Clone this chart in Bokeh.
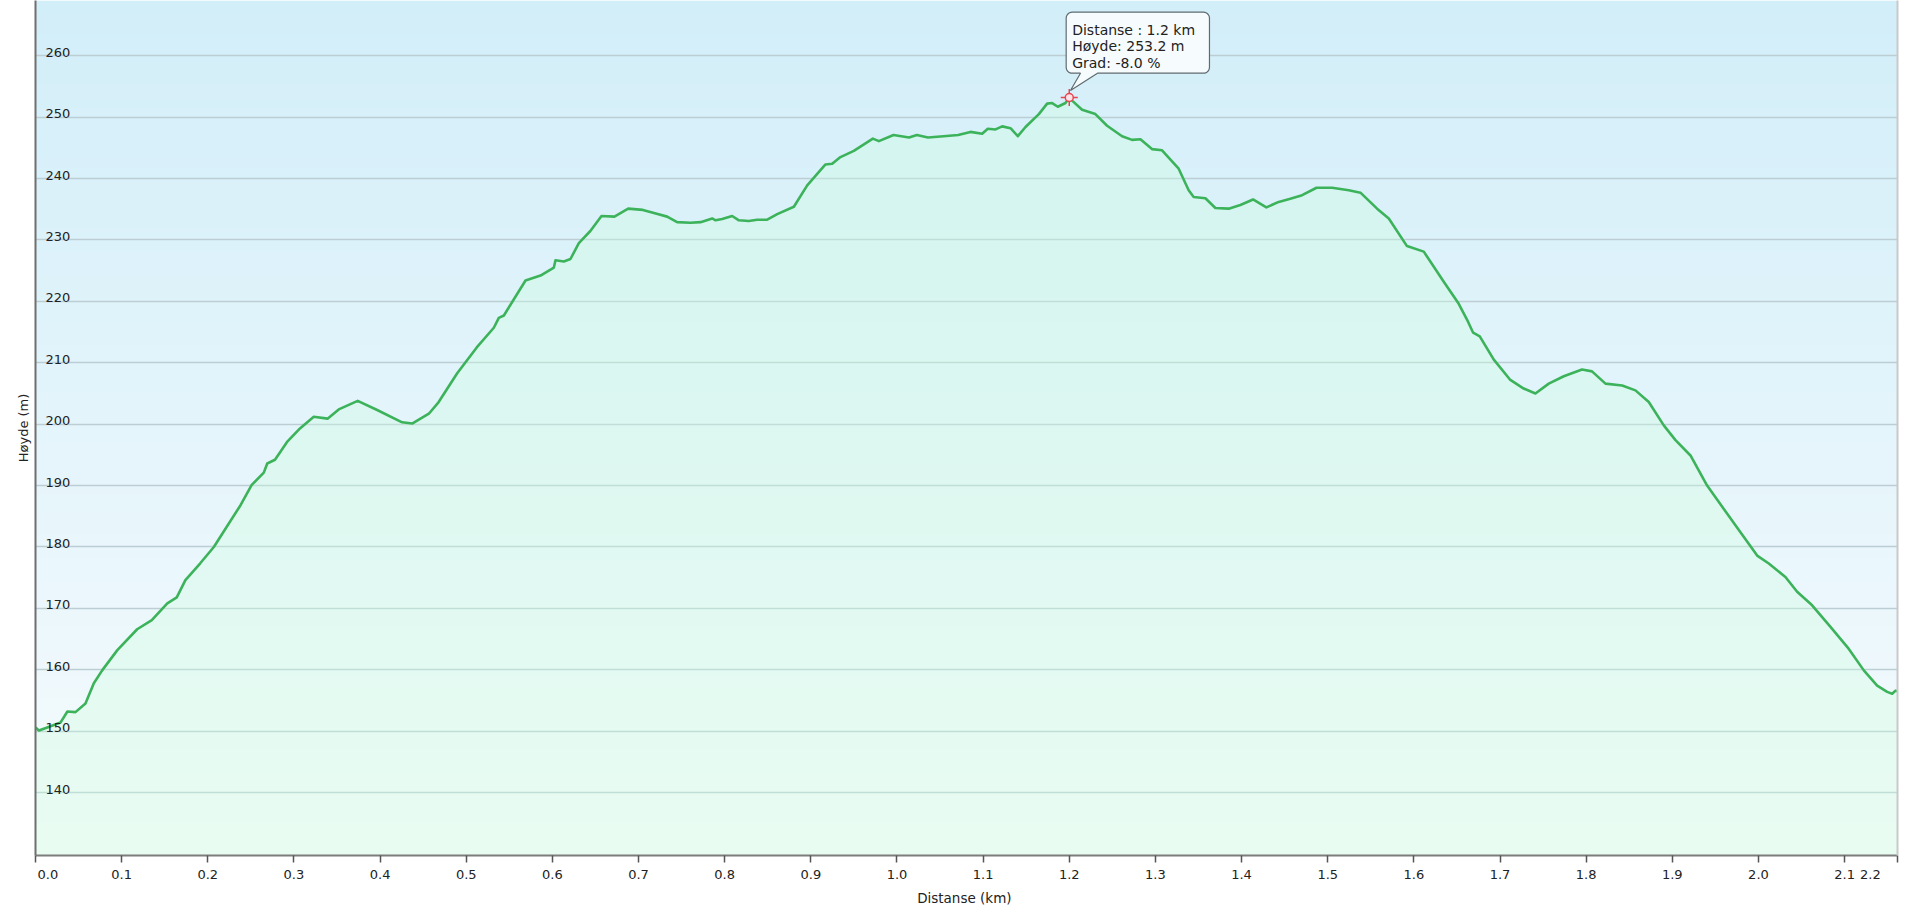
import numpy as np
from bokeh.plotting import figure
from bokeh.models import FixedTicker, LinearAxis, NumeralTickFormatter, Range1d
from bokeh.core.properties import value
from bokeh.embed import file_html
from bokeh.resources import INLINE

# ---------------- data ----------------
distance_km = [
    0.0, 0.004, 0.0136, 0.029, 0.037, 0.0464, 0.058, 0.0677, 0.0774, 0.095,
    0.118, 0.135, 0.153, 0.164, 0.174, 0.191, 0.207, 0.222, 0.238, 0.251,
    0.265, 0.269, 0.278, 0.292, 0.307, 0.323, 0.339, 0.352, 0.374, 0.3966,
    0.4256, 0.4372, 0.4566, 0.468, 0.4895, 0.5122, 0.532, 0.5378, 0.5437, 0.5688,
    0.5862, 0.6017, 0.6036, 0.6133, 0.621, 0.6307, 0.6443, 0.657, 0.672, 0.688,
    0.705, 0.72, 0.7332, 0.7448, 0.7603, 0.772, 0.7855, 0.7894, 0.7971, 0.8087,
    0.8165, 0.828, 0.8377, 0.8494, 0.861, 0.8803, 0.8958, 0.917, 0.9248, 0.9344,
    0.9499, 0.972, 0.979, 0.996, 1.014, 1.023, 1.036, 1.054, 1.071, 1.0853,
    1.0989, 1.1054, 1.1144, 1.1221, 1.1318, 1.1403, 1.1492, 1.1647, 1.1743, 1.1801,
    1.1867, 1.1956, 1.2, 1.2033, 1.2149, 1.2303, 1.2439, 1.2613, 1.2729, 1.2826,
    1.296, 1.3077, 1.327, 1.3386, 1.3444, 1.358, 1.3696, 1.385, 1.3986, 1.4133,
    1.4288, 1.4431, 1.4566, 1.4703, 1.487, 1.5051, 1.5245, 1.538, 1.5573, 1.5709,
    1.592, 1.6115, 1.6347, 1.6521, 1.6618, 1.6688, 1.6765, 1.6928, 1.712, 1.7275,
    1.7411, 1.7566, 1.774, 1.7952, 1.8068, 1.8224, 1.8418, 1.8572, 1.8727, 1.8901,
    1.9037, 1.9211, 1.9404, 1.9598, 1.9791, 1.9985, 2.012, 2.0313, 2.0449, 2.0623,
    2.0836, 2.1049, 2.1223, 2.1378, 2.1494, 2.1552, 2.1591, 2.1614,
]
elevation_m = [
    150.6, 150.1, 150.6, 151.4, 153.2, 153.1, 154.5, 157.8, 159.9, 163.2,
    166.6, 168.1, 170.8, 171.8, 174.6, 177.3, 180.0, 183.3, 186.8, 190.1,
    192.1, 193.6, 194.2, 197.1, 199.3, 201.2, 200.9, 202.4, 203.8, 202.3,
    200.3, 200.1, 201.7, 203.6, 208.3, 212.5, 215.7, 217.3, 217.7, 223.4,
    224.2, 225.5, 226.7, 226.5, 226.9, 229.5, 231.5, 233.9, 233.8, 235.1,
    234.9, 234.3, 233.8, 232.9, 232.8, 232.9, 233.5, 233.2, 233.4, 233.9,
    233.2, 233.1, 233.3, 233.3, 234.2, 235.4, 238.9, 242.3, 242.4, 243.5,
    244.5, 246.5, 246.1, 247.1, 246.7, 247.1, 246.7, 246.9, 247.1, 247.6,
    247.3, 248.1, 248.0, 248.5, 248.2, 246.9, 248.4, 250.5, 252.2, 252.3,
    251.7, 252.3, 253.2, 252.7, 251.2, 250.5, 248.6, 246.9, 246.3, 246.4,
    244.8, 244.6, 241.6, 238.1, 237.0, 236.8, 235.2, 235.1, 235.7, 236.6,
    235.3, 236.2, 236.7, 237.3, 238.5, 238.5, 238.1, 237.7, 235.1, 233.5,
    229.0, 228.1, 223.2, 219.6, 217.0, 214.9, 214.3, 210.5, 207.2, 205.8,
    205.0, 206.6, 207.8, 208.9, 208.6, 206.6, 206.3, 205.5, 203.6, 199.8,
    197.4, 194.9, 190.0, 186.2, 182.4, 178.6, 177.3, 175.1, 172.7, 170.5,
    167.0, 163.4, 159.9, 157.4, 156.4, 156.1, 156.6, 156.5,
]
y_ticks = [140, 150, 160, 170, 180, 190, 200, 210, 220, 230, 240, 250, 260]
x_ticks = [0.0, 0.1, 0.2, 0.3, 0.4, 0.5, 0.6, 0.7, 0.8, 0.9, 1.0,
           1.1, 1.2, 1.3, 1.4, 1.5, 1.6, 1.7, 1.8, 1.9, 2.0, 2.1]
hover_km = 1.2
hover_m = 253.2
hover_grad = -8.0

# ---------------- layout ----------------
X0, X1 = 0.0, distance_km[-1]
Y0, Y1 = 129.75, 269.0
FW, FH = 1862, 855
FONT = "DejaVu Sans"
TXT = "#222222"

p = figure(frame_width=FW, frame_height=FH,
           x_range=Range1d(X0, X1), y_range=Range1d(Y0, Y1),
           output_backend="svg", toolbar_location=None,
           min_border_left=35, min_border_right=8, min_border_top=0,
           min_border_bottom=46, outline_line_color=None,
           border_fill_color="white", background_fill_color="white")

# background vertical gradient (bottom -> top)
n = 256
t = np.linspace(0.0, 1.0, n)
bottom_rgb = np.array([246, 251, 253])
top_rgb = np.array([210, 238, 249])
img = np.empty((n, 1), dtype=np.uint32)
view = img.view(dtype=np.uint8).reshape((n, 1, 4))
for c in range(3):
    view[:, 0, c] = np.round(bottom_rgb[c] + (top_rgb[c] - bottom_rgb[c]) * t).astype(np.uint8)
view[:, 0, 3] = 255
p.image_rgba(image=[img], x=X0, y=Y0, dw=X1 - X0, dh=Y1 - Y0, level="image")

# grid
p.xgrid.visible = False
p.ygrid.ticker = FixedTicker(ticks=y_ticks)
p.ygrid.grid_line_color = "#bccdd4"
p.ygrid.grid_line_width = 1.5

# area + line
p.varea(x=distance_km, y1=Y0, y2=elevation_m, fill_color=(205, 255, 220), fill_alpha=0.32)
p.line(distance_km, elevation_m, line_color="#3cb35a", line_width=2.6, line_join="round")

# y axis (labels drawn inside the plot)
p.yaxis.ticker = FixedTicker(ticks=[])
p.yaxis.axis_label = "Høyde (m)"
p.yaxis.axis_line_color = "#6f6f6f"
p.yaxis.axis_line_width = 2
p.yaxis.major_tick_out = 0
p.yaxis.major_tick_in = 0
p.yaxis.minor_tick_out = 0
p.yaxis.minor_tick_in = 0
p.yaxis.major_label_standoff = 0
p.yaxis.axis_label_standoff = 5
p.yaxis.axis_label_text_font = FONT
p.yaxis.axis_label_text_font_size = "13px"
p.yaxis.axis_label_text_font_style = "normal"
p.yaxis.axis_label_text_color = TXT

p.text(x=[X0] * len(y_ticks), y=y_ticks, text=[str(v) for v in y_ticks],
       x_offset=10, y_offset=-3.5, text_font=value(FONT), text_font_size="13px",
       text_color=TXT, text_align="left", text_baseline="alphabetic")

# x axis
FS = "\u2007"  # figure space: keeps the end labels inside the axis span
p.xaxis.ticker = FixedTicker(ticks=x_ticks + [X1])
p.xaxis.formatter = NumeralTickFormatter(format="0.0")
p.xaxis.major_label_overrides = {0: FS * 3 + f"{X0:.1f}", X1: f"{X1:.1f}" + FS * 3}
p.xaxis.axis_label = "Distanse  (km)"
p.xaxis.axis_line_color = "#7d7d7d"
p.xaxis.axis_line_width = 2
p.xaxis.major_tick_line_color = "#555555"
p.xaxis.major_tick_line_width = 1.5
p.xaxis.major_tick_out = 7
p.xaxis.major_tick_in = 0
p.xaxis.minor_tick_out = 0
p.xaxis.minor_tick_in = 0
p.xaxis.major_label_standoff = 4
p.xaxis.major_label_text_font = FONT
p.xaxis.major_label_text_font_size = "13px"
p.xaxis.major_label_text_color = TXT
p.xaxis.axis_label_standoff = 5
p.xaxis.axis_label_text_font = FONT
p.xaxis.axis_label_text_font_size = "13.5px"
p.xaxis.axis_label_text_font_style = "normal"
p.xaxis.axis_label_text_color = TXT

# right border line
ra = LinearAxis(ticker=FixedTicker(ticks=[]), axis_line_color="#c9c9c9", axis_line_width=2,
                major_tick_out=0, major_tick_in=0, minor_tick_out=0, minor_tick_in=0,
                major_label_standoff=0)
p.add_layout(ra, "right")

# ---------------- callout at hovered point ----------------
kx = (X1 - X0) / FW
ky = (Y1 - Y0) / FH
L, R, T, B, rad = -3.1, 140.2, -85.3, -24.3, 6.0
tip = (1.2, -7.0)
bx1, bx2 = 11.2, 28.2


def arc(cx, cy, a0, a1, k=8):
    a = np.radians(np.linspace(a0, a1, k))
    return list(cx + rad * np.cos(a)), list(cy + rad * np.sin(a))


px, py = [], []
for seg in [arc(R - rad, T + rad, -90, 0), arc(R - rad, B - rad, 0, 90)]:
    px += seg[0]; py += seg[1]
px += [bx2, tip[0], bx1]; py += [B, tip[1], B]
for seg in [arc(L + rad, B - rad, 90, 180), arc(L + rad, T + rad, 180, 270)]:
    px += seg[0]; py += seg[1]
cx = [hover_km + dx * kx for dx in px]
cy = [hover_m - dy * ky for dy in py]
p.patch(cx, cy, fill_color="#f6fbfd", line_color="#5f6b70", line_width=1.2)

lines = [f"Distanse : {hover_km:.1f} km", f"Høyde: {hover_m:.1f} m", f"Grad: {hover_grad:.1f} %"]
for txt, yo in zip(lines, [-67.7, -51.2, -35.0]):
    p.text(x=[hover_km], y=[hover_m], text=[txt], x_offset=2.9, y_offset=yo,
           text_font=value(FONT), text_font_size="14px", text_color=TXT,
           text_align="left", text_baseline="alphabetic")

p.scatter([hover_km], [hover_m], marker="cross", size=17, line_color="#e8434f", line_width=1.5)
p.scatter([hover_km], [hover_m], marker="circle", size=8, fill_color="#fde3e5",
          line_color="#e8434f", line_width=1.5)

open("out.html", "w").write(file_html(p, INLINE))
